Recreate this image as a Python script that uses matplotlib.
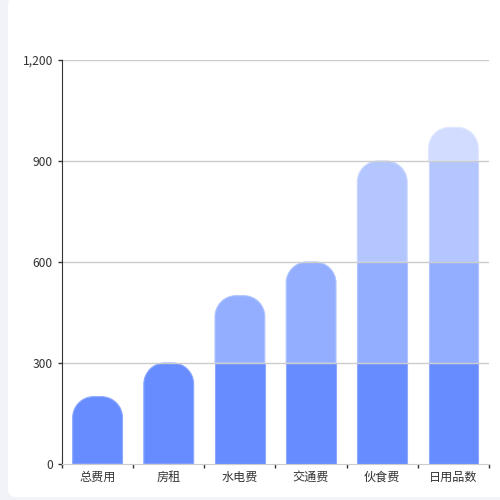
import matplotlib
matplotlib.use("Agg")
import matplotlib.pyplot as plt
from matplotlib.patches import FancyBboxPatch, PathPatch
from matplotlib.path import Path

plt.rcParams['font.family'] = ['Noto Sans CJK SC', 'DejaVu Sans']

categories = ['总费用', '房租', '水电费', '交通费', '伙食费', '日用品数']
values = [200, 300, 500, 600, 900, 1000]
band_size = 300
band_colors = ['#668cff', '#94aeff', '#b3c6ff', '#d1dcff']
edge_colors = ['#8ca8ff', '#b0c4ff', '#c9d7ff', '#e0e8ff']
y_ticks = [0, 300, 600, 900, 1200]
y_tick_labels = ['0', '300', '600', '900', '1,200']

W, H = 500, 500
fig = plt.figure(figsize=(5, 5), dpi=100, facecolor='#f2f3f8')
card = FancyBboxPatch((8 / W, 3 / H), 1.0, 1.0, boxstyle='round,pad=0,rounding_size=0.016',
                      transform=fig.transFigure, facecolor='white', edgecolor='none', zorder=-5)
fig.add_artist(card)

ax_l, ax_r, ax_b, ax_t = 62, 489, 36, 440
ax = fig.add_axes([ax_l / W, ax_b / H, (ax_r - ax_l) / W, (ax_t - ax_b) / H])
ax.set_facecolor('none')
ax.set_xlim(-0.5, len(categories) - 0.5)
ax.set_ylim(0, 1200)

bar_w = 0.70
px_x = (ax_r - ax_l) / len(categories)
px_y = (ax_t - ax_b) / 1200
r_px = 21
rx = r_px / px_x
ry = r_px / px_y


def rounded_top(x0, x1, y0, y1):
    k = 0.5523
    verts = [(x0, y0), (x1, y0), (x1, y1 - ry),
             (x1, y1 - ry + k * ry), (x1 - rx + k * rx, y1), (x1 - rx, y1),
             (x0 + rx, y1),
             (x0 + rx - k * rx, y1), (x0, y1 - ry + k * ry), (x0, y1 - ry),
             (x0, y0)]
    codes = [Path.MOVETO, Path.LINETO, Path.LINETO,
             Path.CURVE4, Path.CURVE4, Path.CURVE4,
             Path.LINETO,
             Path.CURVE4, Path.CURVE4, Path.CURVE4,
             Path.CLOSEPOLY]
    return Path(verts, codes)


for i, v in enumerate(values):
    base = 0
    band = 0
    while base < v:
        top = min(base + band_size, v)
        x0, x1 = i - bar_w / 2, i + bar_w / 2
        if top == v:
            patch = PathPatch(rounded_top(x0, x1, base, top), facecolor=band_colors[band],
                              edgecolor=edge_colors[band], linewidth=0.8, zorder=2)
            ax.add_patch(patch)
        else:
            ax.bar(i, top - base, bottom=base, width=bar_w, color=band_colors[band],
                   edgecolor=edge_colors[band], linewidth=0.8, zorder=2)
        base = top
        band += 1

for y in y_ticks[1:]:
    ax.axhline(y, color='#cccccc', linewidth=1, zorder=3)

ax.set_yticks(y_ticks)
ax.set_yticklabels(y_tick_labels)
ax.set_xticks(range(len(categories)))
ax.set_xticklabels(categories)
ax.set_xticks([i - 0.5 for i in range(len(categories) + 1)], minor=True)
ax.tick_params(axis='x', which='major', length=0, pad=5, labelsize=8.7, labelcolor='#333333')
ax.tick_params(axis='x', which='minor', length=3, width=1, color='#333333')
ax.tick_params(axis='y', length=3, width=1, color='#333333', pad=3.5, labelsize=8.7,
               labelcolor='#333333')

for side in ['top', 'right']:
    ax.spines[side].set_visible(False)
ax.spines['left'].set_color('#333333')
ax.spines['left'].set_zorder(4)
ax.spines['bottom'].set_color('#cccccc')
ax.spines['bottom'].set_zorder(4)

fig.savefig('out.png', dpi=100, facecolor=fig.get_facecolor())
